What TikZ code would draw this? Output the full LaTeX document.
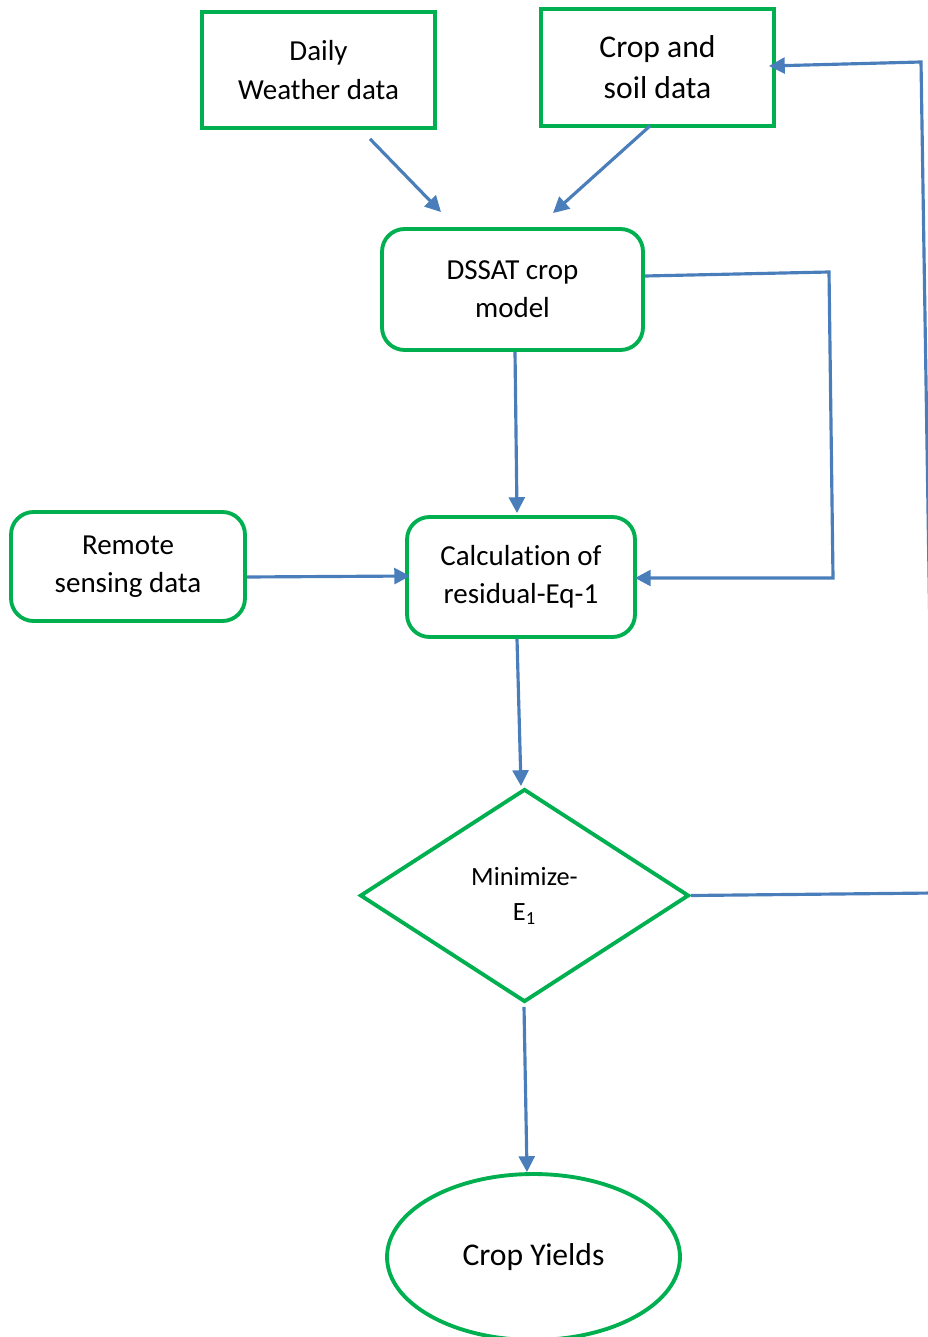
\documentclass[tikz,border=0pt]{standalone}
\usepackage{fontspec}
\setmainfont[Ligatures=NoCommon]{Carlito}
\usetikzlibrary{shapes.geometric,arrows.meta}
\definecolor{boxgreen}{HTML}{00B050}
\definecolor{lineblue}{HTML}{4A7EBB}

\begin{document}
\begin{tikzpicture}[x=0.02cm,y=-0.02cm,
	databox/.style={draw=boxgreen, line width=2.2pt, align=center, inner sep=2pt, font=\fontsize{16.5}{21.8}\selectfont},
	roundbox/.style={databox, rounded corners=0.45cm},
	link/.style={draw=lineblue, line width=1.8pt, -{Triangle[length=9pt,width=9pt]}}]
			\useasboundingbox (0,0) rectangle (928,1337);

			% inputs
			\node[databox, minimum width=4.66cm, minimum height=2.32cm] (weather) at (318.5,70) {Daily\\Weather data};
			\node[databox, minimum width=4.66cm, minimum height=2.34cm, font=\fontsize{18}{23.2}\selectfont] (soil) at (657.5,67.5) {Crop and\\soil data};
			\node[roundbox, minimum width=5.22cm, minimum height=2.42cm] (dssat) at (512.5,289.5) {DSSAT crop\\model};
			\node[roundbox, minimum width=4.68cm, minimum height=2.18cm] (remote) at (128,566.5) {Remote\\sensing data};
			\node[roundbox, minimum width=4.56cm, minimum height=2.4cm] (calc) at (521,577) {Calculation of\\residual-Eq-1};

			% decision and result
			\node[diamond, draw=boxgreen, line width=2.2pt, inner sep=0pt, align=center,
				minimum width=6.58cm, minimum height=4.26cm, font=\fontsize{15}{20}\selectfont] (minimize) at (524.5,895.5) {Minimize-\\E\textsubscript{1}};
			\node[ellipse, draw=boxgreen, line width=2.2pt, minimum width=5.86cm, minimum height=3.32cm,
				font=\fontsize{18}{22}\selectfont] (yields) at (533.5,1257) {Crop Yields};

			\coordinate (bendA) at (829,272);
			\coordinate (bendB) at (833,578);
			\coordinate (bendC) at (934,893);
			\coordinate (bendD) at (921,62);

			\draw[link] ([shift={(51.5,9)}]weather.south) -- ([shift={(-71.5,-15)}]dssat.north);
			\draw[link] ([shift={(-7.5,-2)}]soil.south) -- ([shift={(40.5,-14)}]dssat.north);
			\draw[link] ([shift={(2.5,0)}]dssat.south) -- ([shift={(-4,-2)}]calc.north);
			\draw[link] ([shift={(0,10.5)}]remote.east) -- ([shift={(5,-1)}]calc.west);
			\draw[link] ([shift={(0,-13.5)}]dssat.east) -- (bendA) -- (bendB) -- ([shift={(-2,1)}]calc.east);
			\draw[link] ([shift={(-4,0)}]calc.south) -- ([shift={(-3.5,-1)}]minimize.north);
			\draw[link] ([shift={(-0.5,3)}]minimize.south) -- ([shift={(-6.5,0)}]yields.north);
			\draw[link] (minimize.east) -- (bendC) -- (bendD) -- ([shift={(-7,-1.5)}]soil.east);
\end{tikzpicture}
\end{document}
